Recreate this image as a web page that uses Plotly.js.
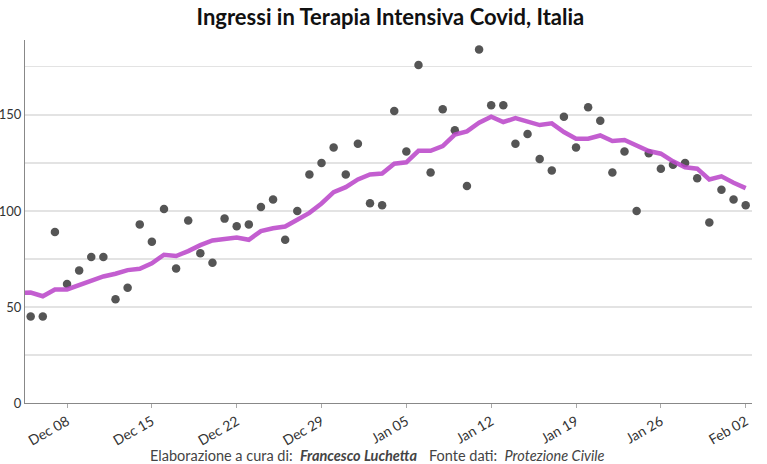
<!DOCTYPE html>
<html>
<head>
<meta charset="utf-8">
<script src="https://cdn.plot.ly/plotly-3.0.1.min.js"></script>
<style>html,body{margin:0;padding:0;background:#fff;}#chart{width:767px;height:464px;}</style>
</head>
<body>
<div id="chart"></div>
<script>
// Daily dates (Dec 05 2020 .. Feb 02 2021)
const dates = [
  '2020-12-05','2020-12-06','2020-12-07','2020-12-08','2020-12-09','2020-12-10','2020-12-11',
  '2020-12-12','2020-12-13','2020-12-14','2020-12-15','2020-12-16','2020-12-17','2020-12-18',
  '2020-12-19','2020-12-20','2020-12-21','2020-12-22','2020-12-23','2020-12-24','2020-12-25',
  '2020-12-26','2020-12-27','2020-12-28','2020-12-29','2020-12-30','2020-12-31','2021-01-01',
  '2021-01-02','2021-01-03','2021-01-04','2021-01-05','2021-01-06','2021-01-07','2021-01-08',
  '2021-01-09','2021-01-10','2021-01-11','2021-01-12','2021-01-13','2021-01-14','2021-01-15',
  '2021-01-16','2021-01-17','2021-01-18','2021-01-19','2021-01-20','2021-01-21','2021-01-22',
  '2021-01-23','2021-01-24','2021-01-25','2021-01-26','2021-01-27','2021-01-28','2021-01-29',
  '2021-01-30','2021-01-31','2021-02-01','2021-02-02'
];
// Daily ICU admissions
const ingressi = [
  45, 45, 89, 62, 69, 76, 76,
  54, 60, 93, 84, 101, 70, 95,
  78, 73, 96, 92, 93, 102, 106,
  85, 100, 119, 125, 133, 119, 135,
  104, 103, 152, 131, 176, 120, 153,
  142, 113, 184, 155, 155, 135, 140,
  127, 121, 149, 133, 154, 147, 120,
  131, 100, 130, 122, 124, 125, 117,
  94, 111, 106, 103
];
// 7-day moving average (includes the day before the first point)
const mediaDates = ['2020-12-04'].concat(dates);
const mediaMobile = [
  57.3,
  57.5, 55.6, 59.1, 59.1, 61.2, 63.5, 65.9,
  67.3, 69.2, 69.9, 72.7, 77.2, 76.5, 79.1,
  82.2, 84.6, 85.3, 86.2, 85.0, 89.5, 91.0,
  91.9, 95.4, 99.0, 103.9, 109.8, 112.4, 116.4,
  119.0, 119.5, 124.6, 125.3, 131.3, 131.3, 133.8,
  139.8, 141.4, 145.9, 149.1, 146.3, 148.3, 146.6,
  144.7, 145.6, 141.1, 137.6, 137.6, 139.3, 136.4,
  136.9, 133.8, 131.2, 129.8, 125.8, 122.7, 122.0,
  116.4, 118.0, 114.7, 111.9
];
const xTickVals = ['2020-12-08','2020-12-15','2020-12-22','2020-12-29','2021-01-05','2021-01-12','2021-01-19','2021-01-26','2021-02-02'];
const xTickText = ['Dec 08','Dec 15','Dec 22','Dec 29','Jan 05','Jan 12','Jan 19','Jan 26','Feb 02'];
const yTickVals = [0,25,50,75,100,125,150,175];
const yTickText = ['0','','50','','100','','150',''];

const FONT = 'Lato, "Open Sans", sans-serif';

const traces = [
  {
    x: dates, y: ingressi, type: 'scatter', mode: 'markers',
    marker: {color: '#555555', size: 8.5},
    hoverinfo: 'skip', showlegend: false
  },
  {
    x: mediaDates, y: mediaMobile, type: 'scatter', mode: 'lines',
    line: {color: 'rgba(187,72,202,0.88)', width: 4.5},
    hoverinfo: 'skip', showlegend: false
  }
];

const layout = {
  width: 767, height: 464,
  margin: {l: 25, r: 15, t: 40, b: 61},
  paper_bgcolor: '#ffffff', plot_bgcolor: '#ffffff',
  font: {family: FONT, color: '#333333', size: 13},
  title: {
    text: '<b>Ingressi in Terapia Intensiva Covid, Italia</b>',
    font: {family: FONT, size: 22, color: '#111111'},
    x: 0.509, xanchor: 'center', xref: 'container',
    y: 0.962, yanchor: 'middle', yref: 'container'
  },
  xaxis: {
    type: 'date',
    range: ['2020-12-04 12:45', '2021-02-02 12:30'],
    tickvals: xTickVals, ticktext: xTickText,
    tickangle: -30,
    showgrid: false, zeroline: false,
    showline: true, linecolor: '#888888', linewidth: 1,
    ticks: 'outside', ticklen: 4, tickcolor: '#aaaaaa',
    tickfont: {family: FONT, size: 14, color: '#333333'}
  },
  yaxis: {
    range: [0, 189],
    tickvals: yTickVals, ticktext: yTickText,
    showgrid: true, gridcolor: '#e3e3e3', gridwidth: 1.2,
    zeroline: false,
    showline: true, linecolor: '#888888', linewidth: 1,
    ticks: '', ticklabelstandoff: 0,
    tickfont: {family: FONT, size: 13, color: '#333333'}
  },
  annotations: [
    {
      text: 'Elaborazione a cura di:  <b><i>Francesco Luchetta</i></b>',
      xref: 'paper', yref: 'paper', x: 0.169, y: -0.146,
      xanchor: 'left', yanchor: 'middle', showarrow: false,
      font: {family: FONT, size: 14.5, color: '#444444'}
    },
    {
      text: 'Fonte dati:  <i>Protezione Civile</i>',
      xref: 'paper', yref: 'paper', x: 0.553, y: -0.146,
      xanchor: 'left', yanchor: 'middle', showarrow: false,
      font: {family: FONT, size: 14.5, color: '#444444'}
    }
  ]
};

Plotly.newPlot('chart', traces, layout, {staticPlot: true, displayModeBar: false});
</script>
</body>
</html>
